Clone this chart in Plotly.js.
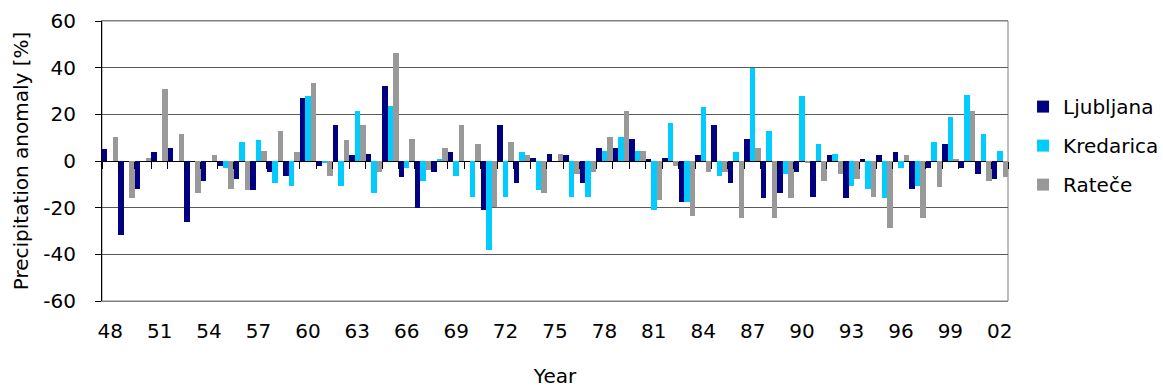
<!DOCTYPE html>
<html>
<head>
<meta charset="utf-8">
<script src="https://cdn.plot.ly/plotly-3.0.1.min.js"></script>
<style>
  html, body { margin: 0; padding: 0; background: #ffffff; }
  #chart { width: 1163px; height: 388px; }
</style>
</head>
<body>
<div id="chart"></div>
<script>
// Annual precipitation anomaly (%) at three Slovenian stations, 1948–2002
const years = [
  1948, 1949, 1950, 1951, 1952, 1953, 1954, 1955, 1956, 1957,
  1958, 1959, 1960, 1961, 1962, 1963, 1964, 1965, 1966, 1967,
  1968, 1969, 1970, 1971, 1972, 1973, 1974, 1975, 1976, 1977,
  1978, 1979, 1980, 1981, 1982, 1983, 1984, 1985, 1986, 1987,
  1988, 1989, 1990, 1991, 1992, 1993, 1994, 1995, 1996, 1997,
  1998, 1999, 2000, 2001, 2002
];

const ljubljana = [
  5, -31.5, -12, 4, 5.5, -26, -8.5, -2, -7.5, -12.5,
  -4.5, -6.5, 27, -2, 15.5, 2.5, 3, 32, -7, -20,
  -4.5, 4, 0, -21, 15.5, -9.5, 1.5, 3, 2.5, -9.5,
  5.5, 5.5, 9.5, 0.7, 1.5, -17.5, 2.5, 15.5, -9.5, 9.5,
  -16, -13.5, -4.5, -15.5, 2.5, -16, 0.7, 2.5, 4, -12,
  -3, 7.5, -3, -5.5, -7.5
];

// Kredarica record starts in 1955
const kredarica = [
  null, null, null, null, null, null, null, -3, 8, 9,
  -9.5, -10.5, 28, -1, -10.5, 21.5, -13.5, 23.5, -3, -8.5,
  0.7, -6.5, -15.5, -38, -15.5, 4, -12.5, 0, -15.5, -15.5,
  4.5, 10.5, 4.5, -21, 16.5, -17.5, 23, -6.5, 4, 40,
  13, -5.5, 28, 7.5, 3, -10.5, -12, -16, -3, -10.5,
  8, 19, 28.5, 11.5, 4.5
];

const ratece = [
  10.5, -16, 1.5, 31, 11.5, -13.5, 2.5, -12, -12.5, 4.5,
  13, 4, 33.5, -6.5, 9, 15.5, -4.5, 46.5, 9.5, -4,
  5.5, 15.5, 7.5, -19.5, 8, 2.5, -13.5, 3, -5.5, -4.5,
  10.5, 21.5, 4.5, -16.5, -2, -23.5, -4.5, -4.5, -24.5, 5.5,
  -24.5, -16, -1, -8.5, -5.5, -7.5, -15.5, -28.5, 2.5, -24.5,
  -11, 0.7, 21.5, -8.5, -7
];

const stationNames = ['Ljubljana', 'Kredarica', 'Rateče'];
const stationColors = ['#000080', '#00ccff', '#999999'];

// Every third year is labelled with its last two digits
const tickYears = [1948, 1951, 1954, 1957, 1960, 1963, 1966, 1969, 1972, 1975,
                   1978, 1981, 1984, 1987, 1990, 1993, 1996, 1999, 2002];
const tickLabels = ['48', '51', '54', '57', '60', '63', '66', '69', '72', '75',
                    '78', '81', '84', '87', '90', '93', '96', '99', '02'];

// Value axis ticks, written with a plain hyphen for negatives
const yTickVals = [-60, -40, -20, 0, 20, 40, 60];
const yTickLabels = ['-60', '-40', '-20', '0', '20', '40', '60'];

const FONT = 'DejaVu Sans, Liberation Sans, Arial, sans-serif';
const xRange = [years[0] - 0.5, years[years.length - 1] + 0.5];

const series = [ljubljana, kredarica, ratece];
const traces = series.map((vals, i) => ({
  type: 'bar',
  name: stationNames[i],
  x: years,
  y: vals,
  marker: { color: stationColors[i], line: { width: 0 } },
  legendgroup: stationNames[i],
  hoverinfo: 'skip'
}));

// empty trace that attaches the zero-line tick axis
traces.push({
  type: 'scatter', mode: 'markers',
  x: [], y: [],
  xaxis: 'x2', yaxis: 'y',
  showlegend: false, hoverinfo: 'skip'
});

const layout = {
  width: 1163,
  height: 388,
  margin: { l: 102, r: 155, t: 21, b: 87, pad: 0, autoexpand: false },
  paper_bgcolor: '#ffffff',
  plot_bgcolor: '#ffffff',
  font: { family: FONT, size: 20, color: '#000000' },
  barmode: 'group',
  bargap: 0,
  bargroupgap: 0,
  showlegend: true,
  hovermode: false,
  xaxis: {
    range: xRange,
    tickmode: 'array',
    tickvals: tickYears,
    ticktext: tickLabels,
    ticks: '',
    ticklabelstandoff: 12,
    showgrid: false,
    zeroline: false,
    showline: true,
    linecolor: '#808080',
    linewidth: 1,
    mirror: true,
    tickfont: { family: FONT, size: 20, color: '#000000' },
    title: { text: 'Year', standoff: 26, font: { family: FONT, size: 20, color: '#000000' } }
  },
  // category tick marks hanging from the zero line
  xaxis2: {
    overlaying: 'x',
    anchor: 'free',
    position: 0.5,
    side: 'bottom',
    range: xRange,
    tickmode: 'linear',
    tick0: xRange[0],
    dtick: 1,
    ticks: 'outside',
    ticklen: 7,
    tickwidth: 1,
    tickcolor: '#000000',
    showticklabels: false,
    showgrid: false,
    zeroline: false,
    showline: false
  },
  yaxis: {
    range: [-60, 60],
    tickmode: 'array',
    tickvals: yTickVals,
    ticktext: yTickLabels,
    ticks: 'outside',
    ticklen: 6,
    tickwidth: 1,
    tickcolor: '#000000',
    ticklabelstandoff: 15,
    showgrid: true,
    gridcolor: '#5a5a5a',
    gridwidth: 1,
    zeroline: true,
    zerolinecolor: '#000000',
    zerolinewidth: 1,
    showline: true,
    linecolor: '#000000',
    linewidth: 1,
    tickfont: { family: FONT, size: 20, color: '#000000' },
    title: { text: 'Precipitation anomaly [%]', standoff: 9, font: { family: FONT, size: 20, color: '#000000' } }
  },
  shapes: [{
    type: 'rect', xref: 'paper', yref: 'paper',
    x0: 0, x1: 1, y0: 0, y1: 1,
    line: { color: '#808080', width: 1 },
    layer: 'below'
  }],
  legend: {
    x: 1.0166,
    xanchor: 'left',
    y: 0.555,
    yanchor: 'middle',
    traceorder: 'grouped',
    tracegroupgap: 10,
    bgcolor: 'rgba(0,0,0,0)',
    borderwidth: 0,
    font: { family: FONT, size: 20, color: '#000000' }
  }
};

Plotly.newPlot('chart', traces, layout, { staticPlot: true, displayModeBar: false });
</script>
</body>
</html>
